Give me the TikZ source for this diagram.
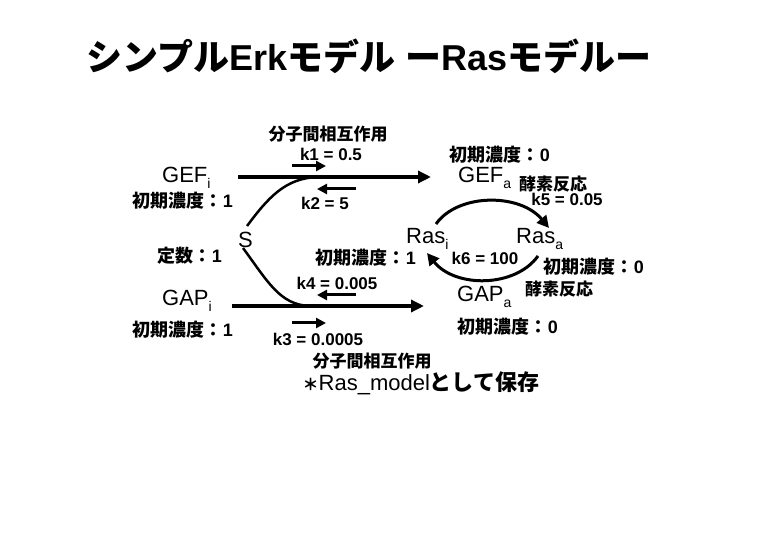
\documentclass[tikz,border=0pt]{standalone}
\usepackage{fontspec}
\setmainfont{Liberation Sans}
\newfontfamily\jpf{Noto Sans CJK JP}
\usetikzlibrary{arrows.meta}
\newcommand\subsc[1]{\raisebox{-0.55ex}{\fontsize{14}{14}\selectfont #1}}
\begin{document}
\begin{tikzpicture}[x=1pt,y=-1pt,
  jp/.style={font=\jpf\bfseries\fontsize{17}{17}\selectfont, inner sep=0pt},
  jpb/.style={font=\bfseries\fontsize{18}{18}\selectfont, inner sep=0pt},
  kl/.style={font=\bfseries\fontsize{17}{17}\selectfont, inner sep=0pt},
  sp/.style={font=\fontsize{22}{22}\selectfont, inner sep=0pt, anchor=west},
  bigarr/.style={line width=3.5pt, -{Triangle[length=13pt,width=12pt]}},
  karr/.style={line width=3pt, -{Triangle[length=10pt,width=10pt]}},
  curv/.style={line width=2.5pt},
  arcarr/.style={line width=3pt, -{Triangle[length=12pt,width=12pt]}}]
\useasboundingbox (0,0) rectangle (780,540);
\fill[white] (0,0) rectangle (780,540);

% title
\node[inner sep=0pt, font=\bfseries\fontsize{36}{36}\selectfont] (title) at (369,56)
  {{\jpf シンプル}Erk{\jpf モデル} {\jpf ー}Ras{\jpf モデルー}};

% left species
\node[sp] (gefi) at (162,178) {GEF\subsc{i}};
\node[jpb] (ini1) at (183,201) {{\jpf 初期濃度：}1};
\node[sp] (s) at (238,240) {S};
\node[jpb] (teisu) at (190,256) {{\jpf 定数：}1};
\node[sp] (gapi) at (162,301) {GAP\subsc{i}};
\node[jpb] (ini2) at (183,330) {{\jpf 初期濃度：}1};

% reaction labels
\node[jp] (bind1) at (328,134) {分子間相互作用};
\node[kl] (k1) at (331,154) {k1 = 0.5};
\node[kl] (k2) at (325,203) {k2 = 5};
\node[kl] (k4) at (337,283) {k4 = 0.005};
\node[kl] (k3) at (318,339) {k3 = 0.0005};
\node[jp] (bind2) at (372,361) {分子間相互作用};
\node[inner sep=0pt, font=\fontsize{22}{22}\selectfont] (save) at (421,383)
  {{\jpf\bfseries\fontsize{16}{16}\selectfont ＊}Ras\_model{\jpf\bfseries として保存}};

% right species
\node[jpb] (ini0a) at (500,155) {{\jpf 初期濃度：}0};
\node[sp] (gefa) at (458,178) {GEF\subsc{a}};
\node[jp] (enz1) at (553,184) {酵素反応};
\node[kl] (k5) at (567,199) {k5 = 0.05};
\node[sp] (rasi) at (406,239) {Ras\subsc{i}};
\node[sp] (rasa) at (516,239) {Ras\subsc{a}};
\node[jpb] (ini1m) at (366,258) {{\jpf 初期濃度：}1};
\node[kl] (k6) at (485,258) {k6 = 100};
\node[jpb] (ini0b) at (594,267) {{\jpf 初期濃度：}0};
\node[sp] (gapa) at (457,297) {GAP\subsc{a}};
\node[jp] (enz2) at (559,289) {酵素反応};
\node[jpb] (ini0c) at (508,327) {{\jpf 初期濃度：}0};

% coordinates
\coordinate (ta) at (238,177);
\coordinate (tb) at (431,177);
\coordinate (tj) at (318,177);
\coordinate (ba) at (232,306);
\coordinate (bb) at (424,306);
\coordinate (bj) at (310,306);
\coordinate (su) at (247,226);
\coordinate (sd) at (243,248);
\coordinate (k1a) at (292,166);
\coordinate (k1b) at (326,166);
\coordinate (k2a) at (356,189);
\coordinate (k2b) at (317,189);
\coordinate (k4a) at (356,295);
\coordinate (k4b) at (317,295);
\coordinate (k3a) at (292,323);
\coordinate (k3b) at (326,323);
\coordinate (a1s) at (436,224);
\coordinate (a1e) at (549,228);
\coordinate (a2s) at (538,256);
\coordinate (a2e) at (427,253);

% main arrows
\draw[bigarr] (ta) -- (tb);
\draw[bigarr] (ba) -- (bb);
\draw[curv] (su) .. controls (268,198) and (285,178) .. (tj);
\draw[curv] (sd) .. controls (268,282) and (280,305) .. (bj);
\draw[karr] (k1a) -- (k1b);
\draw[karr] (k2a) -- (k2b);
\draw[karr] (k4a) -- (k4b);
\draw[karr] (k3a) -- (k3b);
% cycle arcs
\draw[arcarr] (a1s) .. controls (458,193) and (520,193) .. (a1e);
\draw[arcarr] (a2s) .. controls (515,288) and (455,288) .. (a2e);
\end{tikzpicture}
\end{document}
